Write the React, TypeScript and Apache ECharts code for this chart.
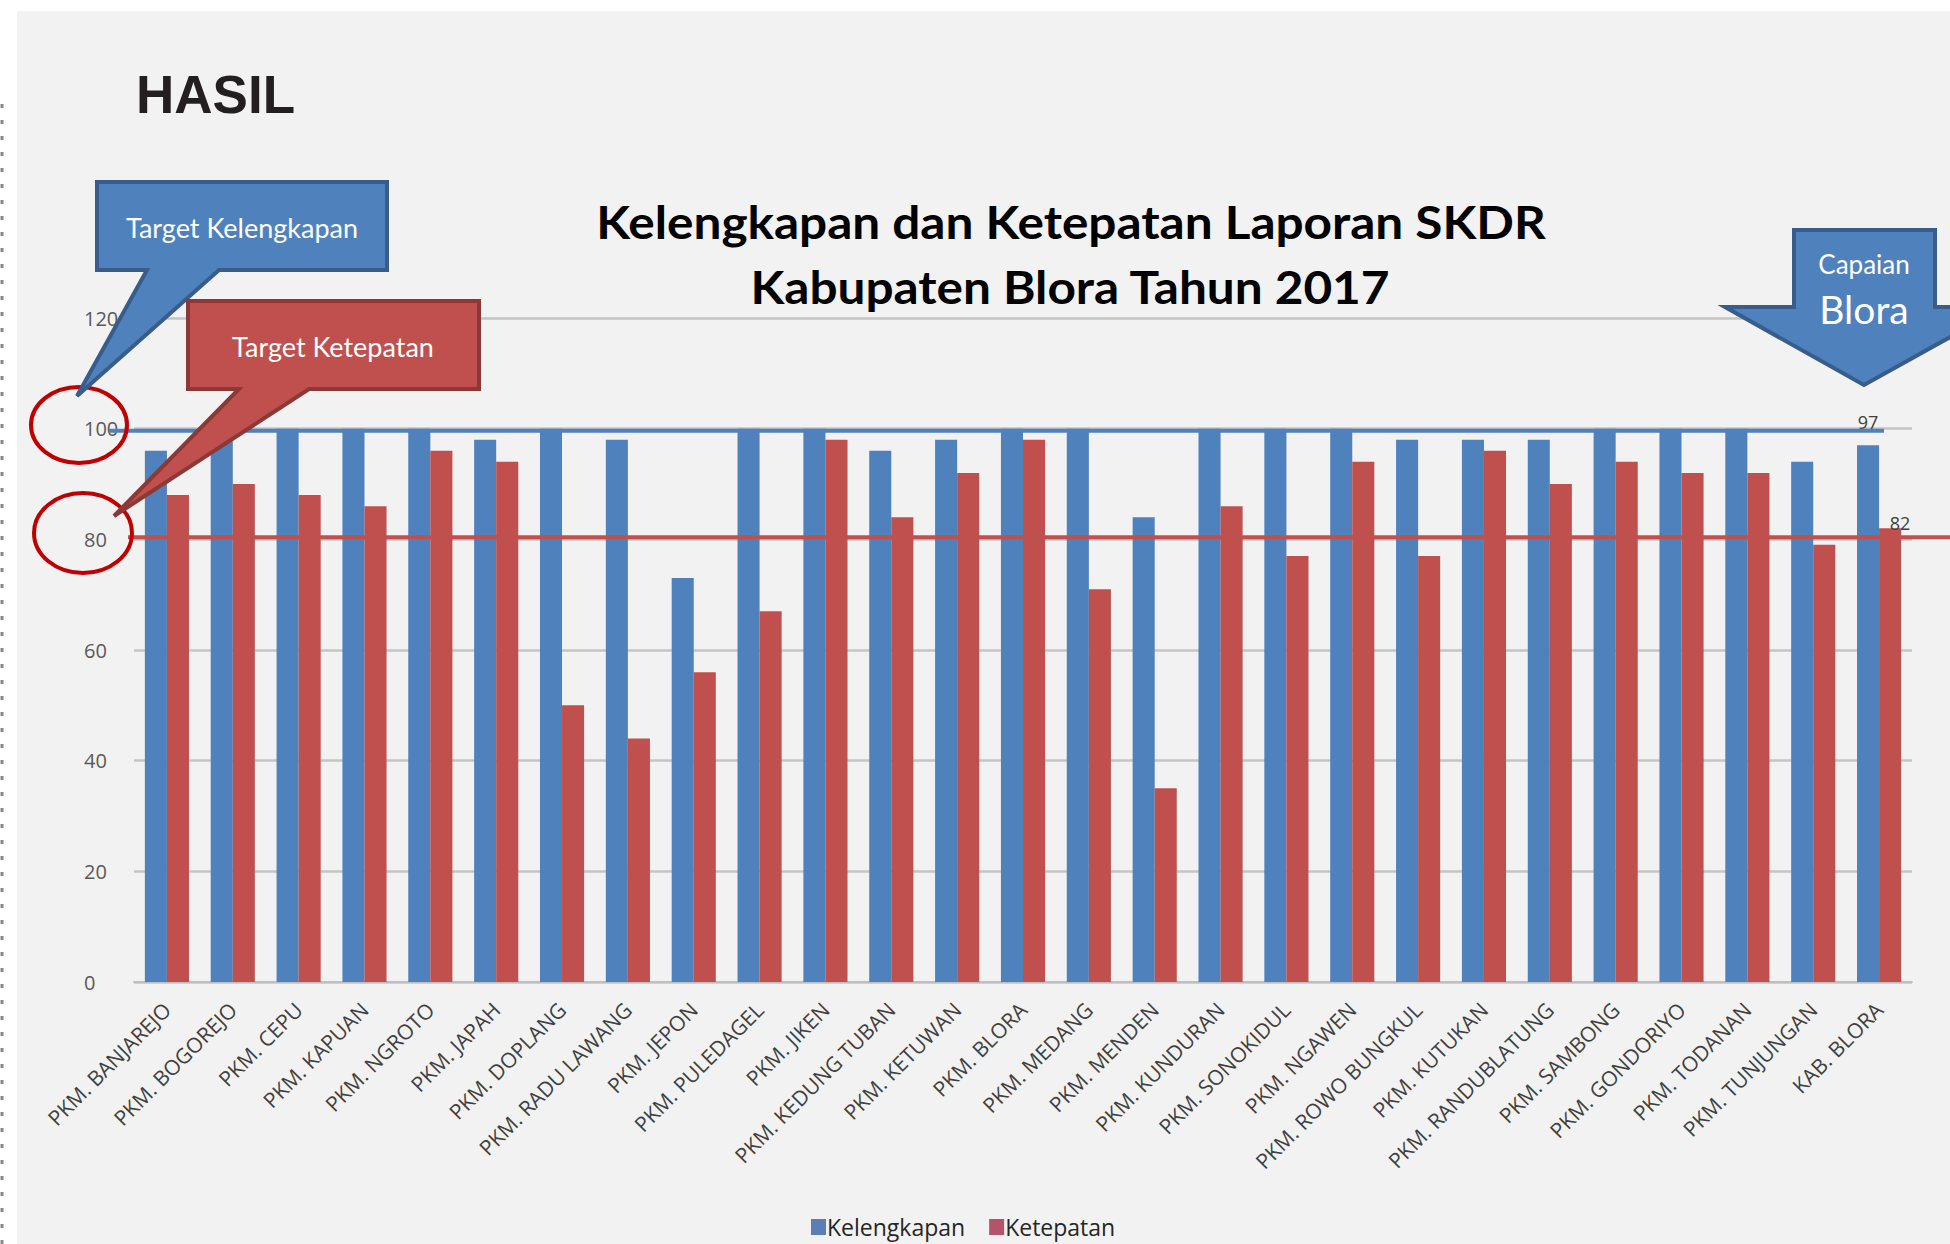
import React, { useEffect, useRef } from "react";
import * as echarts from "echarts";

const categories = [
  "PKM. BANJAREJO", "PKM. BOGOREJO", "PKM. CEPU", "PKM. KAPUAN", "PKM. NGROTO",
  "PKM. JAPAH", "PKM. DOPLANG", "PKM. RADU LAWANG", "PKM. JEPON", "PKM. PULEDAGEL",
  "PKM. JIKEN", "PKM. KEDUNG TUBAN", "PKM. KETUWAN", "PKM. BLORA", "PKM. MEDANG",
  "PKM. MENDEN", "PKM. KUNDURAN", "PKM. SONOKIDUL", "PKM. NGAWEN", "PKM. ROWO BUNGKUL",
  "PKM. KUTUKAN", "PKM. RANDUBLATUNG", "PKM. SAMBONG", "PKM. GONDORIYO", "PKM. TODANAN",
  "PKM. TUNJUNGAN", "KAB. BLORA",
];
const kelengkapan = [96, 100, 100, 100, 100, 98, 100, 98, 73, 100, 100, 96, 98, 100, 100, 84, 100, 100, 100, 98, 98, 98, 100, 100, 100, 94, 97];
const ketepatan = [88, 90, 88, 86, 96, 94, 50, 44, 56, 67, 98, 84, 92, 98, 71, 35, 86, 77, 94, 77, 96, 90, 94, 92, 92, 79, 82];
const seriesNames = ["Kelengkapan", "Ketepatan"];
const targets = [100, 80];
const yTicks = { min: 0, max: 120, interval: 20 };

const BLUE = "#4f81bd";
const BLUE_DARK = "#385d8a";
const RED = "#c0504d";
const RED_DARK = "#8c3836";

export default function App() {
  const ref = useRef<HTMLDivElement>(null);
  useEffect(() => {
    if (!ref.current) return;
    const chart = echarts.init(ref.current, null, { renderer: "svg" });
    const last = categories.length - 1;
    const blueData = kelengkapan.map((v, i) =>
      i === last ? { value: v, label: { show: true, position: "top", distance: 14 } } : v
    );
    const redData = ketepatan.map((v, i) =>
      i === last ? { value: v, label: { show: true, position: "top", distance: 4, offset: [10, 8] } } : v
    );
    const labelStyle = { color: "#404040", fontSize: 18, fontFamily: "Open Sans" };
    chart.setOption({
      animation: false,
      backgroundColor: "#ffffff",
      grid: { left: 134, right: 38, top: 318, bottom: 262, containLabel: false },
      legend: {
        data: [
          { name: seriesNames[0], itemStyle: { color: "#5b7fb5" } },
          { name: seriesNames[1], itemStyle: { color: "#b5536a" } },
        ],
        left: 806,
        top: 1210,
        itemWidth: 15,
        itemHeight: 16,
        itemGap: 24,
        icon: "rect",
        textStyle: { color: "#262626", fontSize: 23, lineHeight: 24, fontFamily: "Open Sans", padding: [0, 0, 0, -4] },
      },
      xAxis: {
        type: "category",
        data: categories,
        axisLine: { lineStyle: { color: "#bfbfbf", width: 2 } },
        axisTick: { show: false },
        axisLabel: {
          interval: 0,
          rotate: 45,
          margin: 24,
          color: "#404040",
          fontSize: 21,
          fontFamily: "Open Sans",
        },
      },
      yAxis: {
        type: "value",
        min: yTicks.min,
        max: yTicks.max,
        interval: yTicks.interval,
        axisLine: { show: false },
        axisTick: { show: false },
        splitLine: { lineStyle: { color: "#c4c4c4", width: 2.5 } },
        axisLabel: {
          color: "#595959",
          fontSize: 20,
          fontFamily: "Open Sans",
          align: "left",
          margin: 50,
        },
      },
      series: [
        {
          name: seriesNames[0],
          type: "bar",
          data: blueData,
          itemStyle: { color: BLUE },
          barGap: "0%",
          barCategoryGap: "33%",
          label: labelStyle,
        },
        {
          name: seriesNames[1],
          type: "bar",
          data: redData,
          itemStyle: { color: RED },
          barGap: "0%",
          barCategoryGap: "33%",
          label: labelStyle,
        },
      ],
    });

    const yBlue = chart.convertToPixel({ yAxisIndex: 0 }, targets[0]) as number;
    const yRed = chart.convertToPixel({ yAxisIndex: 0 }, targets[1]) as number;

    chart.setOption({
      graphic: [
        { type: "rect", z: -10, silent: true, shape: { x: 17, y: 11, width: 1950, height: 1244 }, style: { fill: "#f2f2f2" } },
        { type: "line", z: 100, shape: { x1: 2, y1: 104, x2: 2, y2: 1244 }, style: { stroke: "#8a8a8a", lineWidth: 3, lineDash: [4, 12] } },
        {
          type: "text", z: 100, left: 136, top: 68,
          style: { text: "HASIL", fontSize: 53, fontWeight: "bold", fontFamily: "Liberation Sans", fill: "#231f20" },
        },
        {
          type: "text", z: 100, x: 1071, y: 221, scaleX: 1.1,
          style: { text: "Kelengkapan dan Ketepatan Laporan SKDR", fontSize: 45, fontWeight: "bold", fontFamily: "Lato", fill: "#000000", align: "center", verticalAlign: "middle" },
        },
        {
          type: "text", z: 100, x: 1070, y: 286, scaleX: 1.1,
          style: { text: "Kabupaten Blora Tahun 2017", fontSize: 45, fontWeight: "bold", fontFamily: "Lato", fill: "#000000", align: "center", verticalAlign: "middle" },
        },
        // target lines
        { type: "line", z: 90, shape: { x1: 109, y1: yBlue + 2, x2: 1884, y2: yBlue + 2 }, style: { stroke: BLUE, lineWidth: 4 } },
        { type: "line", z: 90, shape: { x1: 128, y1: yRed - 2, x2: 1950, y2: yRed - 2 }, style: { stroke: RED, lineWidth: 4 } },
        // ellipses
        { type: "ellipse", z: 100, shape: { cx: 79, cy: 425, rx: 48, ry: 38 }, style: { fill: "none", stroke: "#c00000", lineWidth: 4 } },
        { type: "ellipse", z: 100, shape: { cx: 83, cy: 533, rx: 49, ry: 40 }, style: { fill: "none", stroke: "#c00000", lineWidth: 4 } },
        // callout blue
        {
          type: "polygon", z: 110,
          shape: { points: [[97, 182], [387, 182], [387, 270], [219, 270], [77, 396], [147, 270], [97, 270]] },
          style: { fill: BLUE, stroke: BLUE_DARK, lineWidth: 4, lineJoin: "miter" },
        },
        {
          type: "text", z: 111, x: 242, y: 227,
          style: { text: "Target Kelengkapan", fontSize: 27, fontFamily: "Lato", fill: "#ffffff", align: "center", verticalAlign: "middle" },
        },
        // callout red
        {
          type: "polygon", z: 112,
          shape: { points: [[188, 301], [479, 301], [479, 389], [309, 389], [114, 516], [239, 389], [188, 389]] },
          style: { fill: RED, stroke: RED_DARK, lineWidth: 4, lineJoin: "miter" },
        },
        {
          type: "text", z: 113, x: 333, y: 346,
          style: { text: "Target Ketepatan", fontSize: 27, fontFamily: "Lato", fill: "#ffffff", align: "center", verticalAlign: "middle" },
        },
        // down arrow
        {
          type: "polygon", z: 110,
          shape: { points: [[1794, 230], [1935, 230], [1935, 307], [2004, 307], [1864, 385], [1725, 307], [1794, 307]] },
          style: { fill: BLUE, stroke: BLUE_DARK, lineWidth: 4, lineJoin: "miter" },
        },
        {
          type: "text", z: 111, x: 1864, y: 264,
          style: { text: "Capaian", fontSize: 26, fontFamily: "Lato", fill: "#ffffff", align: "center", verticalAlign: "middle" },
        },
        {
          type: "text", z: 111, x: 1864, y: 309,
          style: { text: "Blora", fontSize: 39, fontFamily: "Lato", fill: "#ffffff", align: "center", verticalAlign: "middle" },
        },
      ],
    });

    return () => chart.dispose();
  }, []);
  return <div ref={ref} style={{ position: "absolute", left: 0, top: 0, width: 1950, height: 1244 }} />;
}
